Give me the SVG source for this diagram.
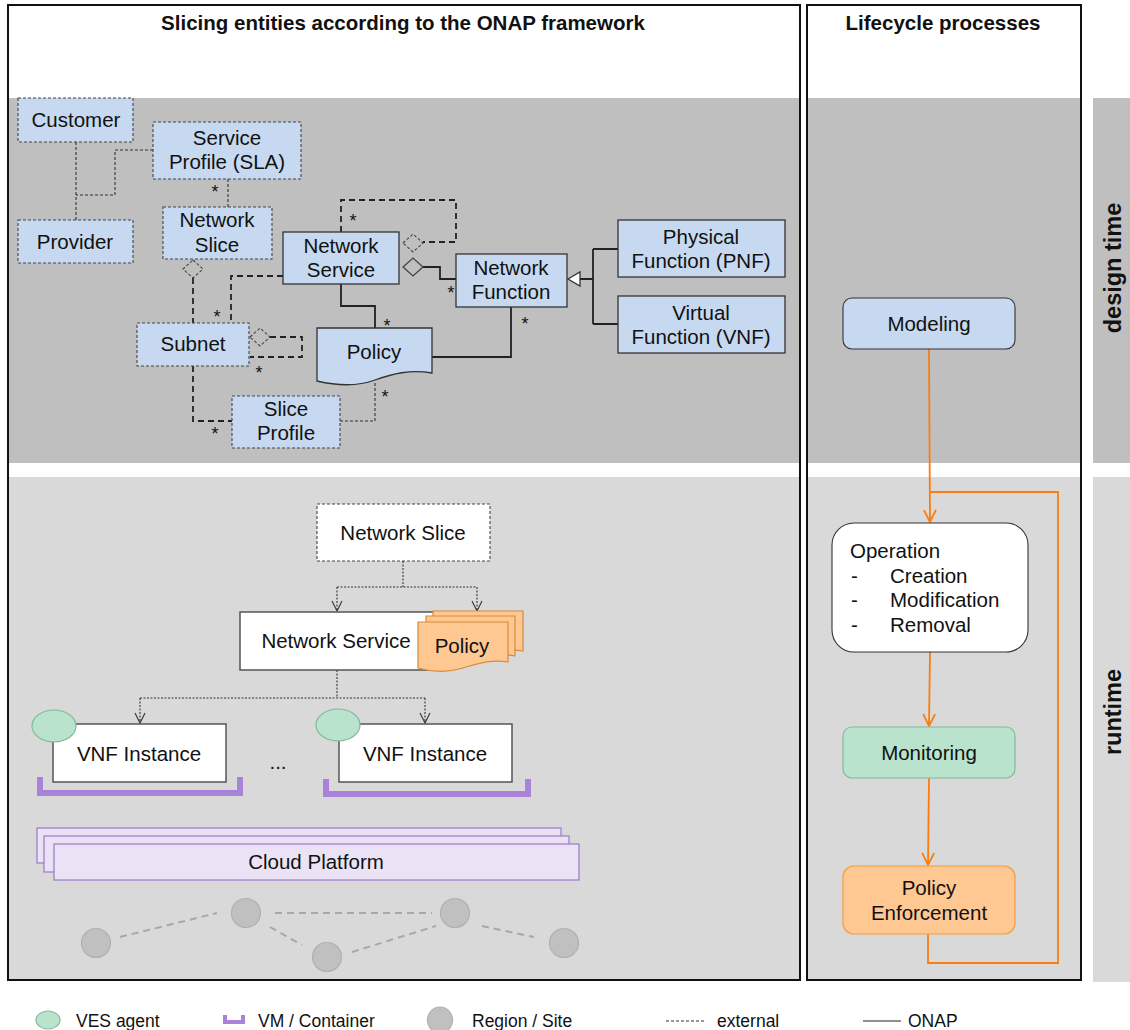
<svg xmlns="http://www.w3.org/2000/svg" width="1130" height="1030" viewBox="0 0 1130 1030">
  <defs>
    <style>
      text { font-family: "Liberation Sans", Arial, sans-serif; fill: #111; }
      .t { font-size: 20.5px; text-anchor: middle; }
      .title { font-size: 20.5px; font-weight: bold; text-anchor: middle; }
      .side { font-size: 23.5px; font-weight: bold; text-anchor: middle; dominant-baseline: central; }
      .star { font-size: 18px; text-anchor: middle; }
      .leg { font-size: 17.5px; }
      .ent { fill: #c6d9f0; stroke: #333; stroke-width: 1.3; }
      .ext { fill: #c6d9f0; stroke: #444; stroke-width: 1.1; stroke-dasharray: 3 2; }
      .dot { fill: none; stroke: #333; stroke-width: 1.1; stroke-dasharray: 3 2; }
      .dash { fill: none; stroke: #222; stroke-width: 1.8; stroke-dasharray: 6 4; }
      .solid { fill: none; stroke: #222; stroke-width: 1.8; }
      .dia-d { fill: none; stroke: #444; stroke-width: 1.1; stroke-dasharray: 3 2; }
      .dia-s { fill: none; stroke: #444; stroke-width: 1.3; }
      .inst { fill: #fff; stroke: #555; stroke-width: 1.5; }
      .ves { fill: #b9e3cc; stroke: #82b99b; stroke-width: 1.2; }
      .vm { fill: none; stroke: #a983d9; stroke-width: 6; }
      .cloud { fill: #ebe3f5; stroke: #9a78cc; stroke-width: 1.2; }
      .site { fill: #c0c0c0; stroke: #b0b0b0; stroke-width: 1.2; }
      .link { stroke: #a8a8a8; stroke-width: 2; stroke-dasharray: 7 5; fill: none; }
      .pol { fill: #ffc893; stroke: #d98a3a; stroke-width: 1.2; }
      .rt { fill: none; stroke: #333; stroke-width: 1.1; stroke-dasharray: 2 1.5; }
      .flow { fill: none; stroke: #fb7d0f; stroke-width: 1.8; }
    </style>
    <marker id="openArrow" viewBox="0 0 12 12" refX="11" refY="6" markerWidth="12" markerHeight="12" markerUnits="userSpaceOnUse" orient="auto">
      <path d="M1,1 L11,6 L1,11" fill="none" stroke="#333" stroke-width="1.1"/>
    </marker>
    <marker id="orangeArrow" viewBox="0 0 14 14" refX="13" refY="7" markerWidth="14" markerHeight="14" markerUnits="userSpaceOnUse" orient="auto">
      <path d="M1,1 L13,7 L1,13" fill="none" stroke="#fb7d0f" stroke-width="1.8"/>
    </marker>
  </defs>

  <rect width="1130" height="1030" fill="#fff"/>

  <!-- background bands -->
  <g id="bands">
    <rect x="8" y="98" width="792" height="365" fill="#bfbfbf"/>
    <rect x="807" y="98" width="274" height="365" fill="#bfbfbf"/>
    <rect x="1093" y="98" width="37" height="365" fill="#bfbfbf"/>
    <rect x="8" y="477" width="792" height="503" fill="#d9d9d9"/>
    <rect x="807" y="477" width="274" height="503" fill="#d9d9d9"/>
    <rect x="1093" y="477" width="37" height="505" fill="#d9d9d9"/>
    <rect x="8" y="5" width="792" height="975" fill="none" stroke="#111" stroke-width="2"/>
    <rect x="807" y="5" width="274" height="975" fill="none" stroke="#111" stroke-width="2"/>
    <text class="title" x="403" y="30">Slicing entities according to the ONAP framework</text>
    <text class="title" x="943" y="30">Lifecycle processes</text>
    <text class="side" x="1113" y="268" transform="rotate(-90 1113 268)">design time</text>
    <text class="side" x="1113" y="712" transform="rotate(-90 1113 712)">runtime</text>
  </g>

  <!-- design-time relations -->
  <g id="connectors">
    <path class="dot" d="M76,142 V220"/>
    <path class="dot" d="M153,150 H115 V195 H76"/>
    <path class="dot" d="M228,179 V207"/>
    <path class="dash" d="M193,278 V323"/>
    <path class="dash" d="M283,276 H231 V323"/>
    <path class="dash" d="M341,232 V200 H456 V242 H423"/>
    <path class="solid" d="M423,267 H440 V279 H456"/>
    <path class="solid" d="M341,284 V306 H375 V328"/>
    <path class="solid" d="M511,307 V357 H432"/>
    <path class="dash" d="M270,337 H302 V357 H250"/>
    <path class="dash" d="M193,366 V421 H232"/>
    <path class="dot" d="M375,383 V421 H340"/>
    <path class="solid" d="M580,279 H593 M593,249 V324 M593,249 H618 M593,324 H618"/>
    <polygon class="dia-d" points="193,260 203,269 193,278 183,269"/>
    <polygon class="dia-d" points="403,243 413,234 423,243 413,252"/>
    <polygon class="dia-s" points="403,267 413,258 423,267 413,276"/>
    <polygon class="dia-d" points="250,337 260,328 270,337 260,346"/>
    <polygon points="568,279 580,272 580,286" fill="#fff" stroke="#333" stroke-width="1.3"/>
    <text class="star" x="215" y="198">*</text>
    <text class="star" x="353" y="227">*</text>
    <text class="star" x="451" y="299">*</text>
    <text class="star" x="387" y="332">*</text>
    <text class="star" x="525" y="330">*</text>
    <text class="star" x="217" y="323">*</text>
    <text class="star" x="259" y="379">*</text>
    <text class="star" x="215" y="440">*</text>
    <text class="star" x="385" y="403">*</text>

    <!-- runtime relations -->
    <path class="rt" d="M403,561 V587 M337,587 H477"/>
    <path class="rt" d="M337,587 V611" marker-end="url(#openArrow)"/>
    <path class="rt" d="M477,587 V611" marker-end="url(#openArrow)"/>
    <path class="rt" d="M337,670 V698 M140,698 H425"/>
    <path class="rt" d="M140,698 V723" marker-end="url(#openArrow)"/>
    <path class="rt" d="M425,698 V723" marker-end="url(#openArrow)"/>

    <!-- lifecycle flow -->
    <path class="flow" d="M929,349 L930,522" marker-end="url(#orangeArrow)"/>
    <path class="flow" d="M928,934 V963 H1058 V492 H930"/>
    <path class="flow" d="M930,652 L929,726" marker-end="url(#orangeArrow)"/>
    <path class="flow" d="M929,778 L928,865" marker-end="url(#orangeArrow)"/>

    <!-- region links -->
    <path class="link" d="M120,937 L217,913"/>
    <path class="link" d="M275,913 H432"/>
    <path class="link" d="M270,927 L302,945"/>
    <path class="link" d="M352,952 L436,926"/>
    <path class="link" d="M482,926 L534,937"/>
  </g>

  <!-- design-time entities -->
  <g id="customer"><rect class="ext" x="18" y="98" width="115" height="44"/><text class="t" x="76" y="127">Customer</text></g>
  <g id="service-profile"><rect class="ext" x="153" y="122" width="148" height="57"/><text class="t" x="227" y="145">Service</text><text class="t" x="227" y="169">Profile (SLA)</text></g>
  <g id="provider"><rect class="ext" x="18" y="220" width="115" height="43"/><text class="t" x="75" y="249">Provider</text></g>
  <g id="network-slice"><rect class="ext" x="163" y="207" width="109" height="52"/><text class="t" x="217" y="227">Network</text><text class="t" x="217" y="252">Slice</text></g>
  <g id="network-service"><rect class="ent" x="283" y="232" width="116" height="52"/><text class="t" x="341" y="253">Network</text><text class="t" x="341" y="277">Service</text></g>
  <g id="network-function"><rect class="ent" x="456" y="254" width="111" height="53"/><text class="t" x="511" y="275">Network</text><text class="t" x="511" y="299">Function</text></g>
  <g id="pnf"><rect class="ent" x="618" y="220" width="167" height="57"/><text class="t" x="701" y="244">Physical</text><text class="t" x="701" y="268">Function (PNF)</text></g>
  <g id="vnf"><rect class="ent" x="618" y="296" width="167" height="57"/><text class="t" x="701" y="320">Virtual</text><text class="t" x="701" y="344">Function (VNF)</text></g>
  <g id="subnet"><rect class="ext" x="137" y="323" width="112" height="43"/><text class="t" x="193" y="351">Subnet</text></g>
  <g id="policy"><path class="ent" d="M317,328 H432 V373 C410,369 392,374 375,380 C356,387 334,385 317,381 Z"/><text class="t" x="374" y="359">Policy</text></g>
  <g id="slice-profile"><rect class="ext" x="232" y="396" width="108" height="52"/><text class="t" x="286" y="416">Slice</text><text class="t" x="286" y="440">Profile</text></g>

  <!-- runtime entities -->
  <g id="rt-network-slice"><rect x="317" y="504" width="173" height="57" fill="#fff" stroke="#444" stroke-width="1.1" stroke-dasharray="3 2"/><text class="t" x="403" y="540">Network Slice</text></g>
  <g id="rt-network-service"><rect class="inst" x="240" y="612" width="200" height="58" stroke="#333"/><text class="t" x="336" y="648">Network Service</text></g>
  <g id="rt-policy">
    <path class="pol" d="M433,611 H523 V651 C505,648 492,653 478,657 C462,661 447,660 433,657 Z"/>
    <path class="pol" d="M426,616 H515 V656 C498,653 485,658 471,662 C455,666 440,665 426,662 Z"/>
    <path class="pol" d="M418,622 H508 V662 C490,659 477,664 463,668 C447,673 432,672 418,668 Z"/>
    <text class="t" x="462" y="653">Policy</text>
  </g>
  <g id="vnf-instance-1">
    <path class="vm" d="M40,777 V793 H240 V777"/>
    <rect class="inst" x="53" y="724" width="173" height="58"/>
    <ellipse class="ves" cx="54" cy="726" rx="22" ry="16"/>
    <text class="t" x="139" y="761">VNF Instance</text>
  </g>
  <text class="t" x="278" y="769">...</text>
  <g id="vnf-instance-2">
    <path class="vm" d="M326,779 V794 H528 V779"/>
    <rect class="inst" x="339" y="724" width="173" height="58"/>
    <ellipse class="ves" cx="338" cy="725" rx="22" ry="16"/>
    <text class="t" x="425" y="761">VNF Instance</text>
  </g>
  <g id="cloud-platform">
    <rect class="cloud" x="37" y="828" width="524" height="35"/>
    <rect class="cloud" x="44" y="836" width="525" height="36"/>
    <rect class="cloud" x="54" y="844" width="525" height="36"/>
    <text class="t" x="316" y="869">Cloud Platform</text>
  </g>
  <g id="sites">
    <circle class="site" cx="96" cy="943" r="14.5"/>
    <circle class="site" cx="246" cy="913" r="14.5"/>
    <circle class="site" cx="327" cy="957" r="14.5"/>
    <circle class="site" cx="455" cy="913" r="14.5"/>
    <circle class="site" cx="564" cy="943" r="14.5"/>
  </g>

  <!-- lifecycle processes -->
  <g id="modeling"><rect x="843" y="298" width="172" height="51" rx="9" fill="#c6d9f0" stroke="#333" stroke-width="1.1"/><text class="t" x="929" y="331">Modeling</text></g>
  <g id="operation">
    <rect x="832" y="523" width="196" height="129" rx="22" fill="#fff" stroke="#333" stroke-width="1.1"/>
    <text x="850" y="558" font-size="20.5">Operation</text>
    <text x="851" y="583" font-size="20.5">-</text><text x="890" y="583" font-size="20.5">Creation</text>
    <text x="851" y="607" font-size="20.5">-</text><text x="890" y="607" font-size="20.5">Modification</text>
    <text x="851" y="632" font-size="20.5">-</text><text x="890" y="632" font-size="20.5">Removal</text>
  </g>
  <g id="monitoring"><rect x="843" y="727" width="172" height="51" rx="9" fill="#b9e3cc" stroke="#82b99b" stroke-width="1.2"/><text class="t" x="929" y="760">Monitoring</text></g>
  <g id="policy-enforcement"><rect x="843" y="866" width="172" height="68" rx="11" fill="#ffc893" stroke="#f59c3f" stroke-width="1.2"/><text class="t" x="929" y="895">Policy</text><text class="t" x="929" y="920">Enforcement</text></g>

  <!-- legend -->
  <g id="legend">
    <ellipse class="ves" cx="48" cy="1020" rx="12" ry="9"/>
    <text class="leg" x="76" y="1027">VES agent</text>
    <path d="M225,1015 V1022 H243 V1015" fill="none" stroke="#a983d9" stroke-width="4"/>
    <text class="leg" x="258" y="1027">VM / Container</text>
    <ellipse class="site" cx="440" cy="1020" rx="12.5" ry="13"/>
    <text class="leg" x="472" y="1027">Region / Site</text>
    <path d="M666,1021 H706" class="dot"/>
    <text class="leg" x="717" y="1027">external</text>
    <path d="M863,1021 H901" fill="none" stroke="#222" stroke-width="1.2"/>
    <text class="leg" x="908" y="1027">ONAP</text>
  </g>
</svg>
